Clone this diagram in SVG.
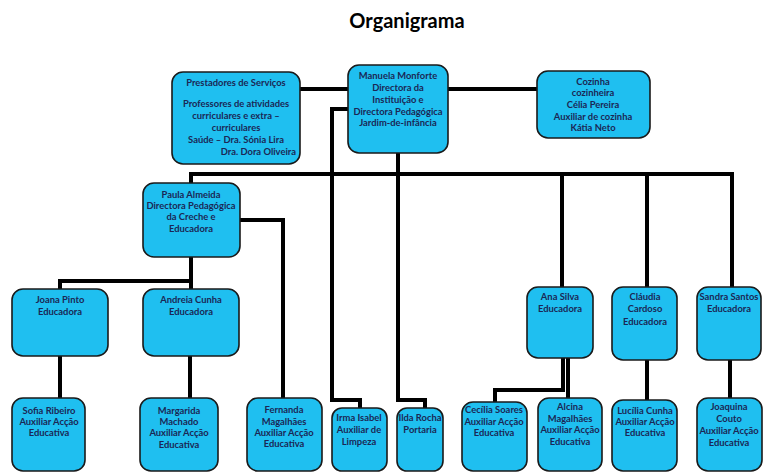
<svg xmlns="http://www.w3.org/2000/svg" width="763" height="474" viewBox="0 0 763 474">
<style>
.bx{fill:#1FBFF0;stroke:#1a1a1a;stroke-width:1.6}
.t{font-family:Lato,"Liberation Sans",sans-serif;font-weight:bold;font-size:9.4px;fill:#1B2755;text-anchor:middle}
.c{fill:none;stroke:#000;stroke-width:4}
.title{font-family:Lato,"Liberation Sans",sans-serif;font-weight:bold;font-size:20px;fill:#000;text-anchor:middle}
</style>
<rect width="763" height="474" fill="#fff"/>
<text class="title" x="407" y="28">Organigrama</text>
<g id="connectors">
<path class="c" d="M300 89H348"/>
<path class="c" d="M448 89H537"/>
<path class="c" d="M348 109H332V400H360V408"/>
<path class="c" d="M398 153V400H425V408"/>
<path class="c" d="M191 183V174H732V287"/>
<path class="c" d="M562 174V287"/>
<path class="c" d="M647 174V287"/>
<path class="c" d="M240 220H283V398"/>
<path class="c" d="M191 257V289"/>
<path class="c" d="M191 281H60V289"/>
<path class="c" d="M60 356V398"/>
<path class="c" d="M190 356V398"/>
<path class="c" d="M563 358V390H495V402"/>
<path class="c" d="M568 358V398"/>
<path class="c" d="M647 360V400"/>
<path class="c" d="M730 360V398"/>
</g>
<g id="prestadores">
<rect class="bx" x="172" y="72" width="128" height="92" rx="11"/>
<text class="t" x="236" y="86">Prestadores de Serviços</text>
<text class="t" x="236" y="107">Professores de atividades</text>
<text class="t" x="236" y="119">curriculares e extra –</text>
<text class="t" x="236" y="131">curriculares</text>
<text class="t" x="236" y="143">Saúde – Dra. Sónia Lira</text>
<text class="t" x="296" y="155" style="text-anchor:end">Dra. Dora Oliveira</text>
</g>
<g id="manuela">
<rect class="bx" x="348" y="65" width="100" height="88" rx="11"/>
<text class="t" x="398" y="79">Manuela Monforte</text>
<text class="t" x="398" y="91">Directora da</text>
<text class="t" x="398" y="103">Instituição e</text>
<text class="t" x="398" y="115">Directora Pedagógica</text>
<text class="t" x="398" y="126">Jardim-de-infância</text>
</g>
<g id="cozinha">
<rect class="bx" x="537" y="71" width="113" height="67" rx="11"/>
<text class="t" x="593" y="85">Cozinha</text>
<text class="t" x="593" y="96">cozinheira</text>
<text class="t" x="593" y="108">Célia Pereira</text>
<text class="t" x="593" y="120">Auxiliar de cozinha</text>
<text class="t" x="593" y="131">Kátia Neto</text>
</g>
<g id="paula">
<rect class="bx" x="143" y="183" width="97" height="74" rx="11"/>
<text class="t" x="191" y="198">Paula Almeida</text>
<text class="t" x="191" y="209">Directora Pedagógica</text>
<text class="t" x="191" y="220">da Creche e</text>
<text class="t" x="191" y="232">Educadora</text>
</g>
<g id="joana">
<rect class="bx" x="12" y="289" width="96" height="67" rx="11"/>
<text class="t" x="60" y="303">Joana Pinto</text>
<text class="t" x="60" y="315">Educadora</text>
</g>
<g id="andreia">
<rect class="bx" x="143" y="289" width="96" height="67" rx="11"/>
<text class="t" x="191" y="303">Andreia Cunha</text>
<text class="t" x="191" y="315">Educadora</text>
</g>
<g id="ana">
<rect class="bx" x="527" y="287" width="66" height="71" rx="11"/>
<text class="t" x="560" y="300">Ana Silva</text>
<text class="t" x="560" y="312">Educadora</text>
</g>
<g id="claudia">
<rect class="bx" x="612" y="287" width="65" height="73" rx="11"/>
<text class="t" x="645" y="300">Cláudia</text>
<text class="t" x="645" y="312">Cardoso</text>
<text class="t" x="645" y="325">Educadora</text>
</g>
<g id="sandra">
<rect class="bx" x="697" y="287" width="64" height="73" rx="11"/>
<text class="t" x="729" y="300">Sandra Santos</text>
<text class="t" x="729" y="312">Educadora</text>
</g>
<g id="sofia">
<rect class="bx" x="12" y="398" width="73" height="73" rx="11"/>
<text class="t" x="49" y="414">Sofia Ribeiro</text>
<text class="t" x="49" y="425">Auxiliar Acção</text>
<text class="t" x="49" y="436">Educativa</text>
</g>
<g id="margarida">
<rect class="bx" x="140" y="398" width="78" height="73" rx="11"/>
<text class="t" x="179" y="414">Margarida</text>
<text class="t" x="179" y="425">Machado</text>
<text class="t" x="179" y="436">Auxiliar Acção</text>
<text class="t" x="179" y="448">Educativa</text>
</g>
<g id="fernanda">
<rect class="bx" x="247" y="398" width="75" height="73" rx="11"/>
<text class="t" x="284" y="413">Fernanda</text>
<text class="t" x="284" y="425">Magalhães</text>
<text class="t" x="284" y="436">Auxiliar Acção</text>
<text class="t" x="284" y="447">Educativa</text>
</g>
<g id="irma">
<rect class="bx" x="332" y="408" width="55" height="63" rx="10"/>
<text class="t" x="359" y="421">Irma Isabel</text>
<text class="t" x="359" y="433">Auxiliar de</text>
<text class="t" x="359" y="445">Limpeza</text>
</g>
<g id="ilda">
<rect class="bx" x="397" y="408" width="46" height="63" rx="10"/>
<text class="t" x="420" y="421">Ilda Rocha</text>
<text class="t" x="420" y="433">Portaria</text>
</g>
<g id="cecilia">
<rect class="bx" x="462" y="402" width="65" height="69" rx="11"/>
<text class="t" x="494" y="413">Cecília Soares</text>
<text class="t" x="494" y="425">Auxiliar Acção</text>
<text class="t" x="494" y="436">Educativa</text>
</g>
<g id="alcina">
<rect class="bx" x="538" y="398" width="64" height="73" rx="11"/>
<text class="t" x="570" y="410">Alcina</text>
<text class="t" x="570" y="422">Magalhães</text>
<text class="t" x="570" y="433">Auxiliar Acção</text>
<text class="t" x="570" y="445">Educativa</text>
</g>
<g id="lucilia">
<rect class="bx" x="612" y="400" width="65" height="71" rx="11"/>
<text class="t" x="645" y="414">Lucília Cunha</text>
<text class="t" x="645" y="425">Auxiliar Acção</text>
<text class="t" x="645" y="436">Educativa</text>
</g>
<g id="joaquina">
<rect class="bx" x="697" y="398" width="65" height="73" rx="11"/>
<text class="t" x="729" y="410">Joaquina</text>
<text class="t" x="729" y="422">Couto</text>
<text class="t" x="729" y="434">Auxiliar Acção</text>
<text class="t" x="729" y="446">Educativa</text>
</g>
</svg>
